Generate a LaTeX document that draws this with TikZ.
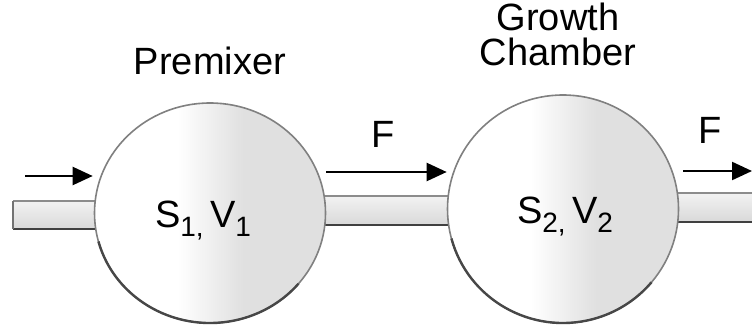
\documentclass[tikz,border=0pt]{standalone}
\usepackage{fontspec}
\setmainfont{Liberation Sans}
\usetikzlibrary{arrows.meta,shapes.geometric}
\pgfdeclarehorizontalshading{vesselshade}{100bp}{color(0bp)=(white); color(43bp)=(white); color(57bp)=(black!12); color(100bp)=(black!12)}
\newcommand\vsub[1]{\raisebox{-9pt}{\fontsize{28}{28}\selectfont #1}}
\begin{document}
\begin{tikzpicture}[x=1pt,y=1pt,
  vessel/.style={ellipse, inner sep=0pt, minimum width=231pt, shading=vesselshade, draw=black!50, line width=1.6pt},
  pipe/.style={top color=black!5, bottom color=black!15, draw=none},
  pipetop/.style={draw=black!45, line width=1.2pt},
  pipebot/.style={draw=black!75, line width=2.6pt},
  flow/.style={line width=2.2pt, -{Triangle[length=20pt,width=18pt]}},
  lbl/.style={font=\fontsize{38}{35}\selectfont, anchor=base, inner sep=0pt},
  shadowline/.style={draw=black!72, line width=2.4pt}]
\fill[white] (0,0) rectangle (752,333);
\useasboundingbox (0,0) rectangle (752,333);
% pipes
\shade[pipe] (13,104) rectangle (120,132);
\draw[pipetop] (13,132) -- (120,132);
\draw[pipebot] (13,104) -- (120,104);
\draw[black!55, line width=1.5pt] (13,104) -- (13,132);
\shade[pipe] (300,108) rectangle (480,137);
\draw[pipetop] (300,137) -- (480,137);
\draw[pipebot] (300,108) -- (480,108);
\shade[pipe] (650,111) rectangle (760,140);
\draw[pipetop] (650,140) -- (760,140);
\draw[pipebot] (650,111) -- (760,111);
% vessels
\node[vessel, minimum height=220pt] (premixer) at (210,120) {};
\node[vessel, minimum height=228pt] (chamber) at (563,124) {};
\draw[shadowline] (premixer.center) ++(195:115.5 and 110) arc[start angle=195, end angle=320, x radius=115.5, y radius=110];
\draw[shadowline] (chamber.center) ++(195:115.5 and 114) arc[start angle=195, end angle=320, x radius=115.5, y radius=114];
% labels
\node[lbl] (premixlabel) at (210,259) {Premixer};
\node[lbl, align=center] (chamberlabel) at (558,268) {Growth\\Chamber};
\node[lbl] (f1) at (383,186) {F};
\node[lbl] (f2) at (710,190) {F};
\node[lbl] (s1) at (203,106) {S\vsub{1,}\,V\vsub{1}};
\node[lbl] (s2) at (565,110) {S\vsub{2,}\,V\vsub{2}};
% flows
\coordinate (feed) at (25,157);
\coordinate (outlet) at (752,162);
\draw[flow] (feed) -- ([xshift=-1pt,yshift=37pt]premixer.west);
\draw[flow] ([yshift=41pt]premixer.east) -- ([yshift=37pt]chamber.west);
\draw[flow] ([xshift=4pt,yshift=38pt]chamber.east) -- (outlet);
\end{tikzpicture}
\end{document}
